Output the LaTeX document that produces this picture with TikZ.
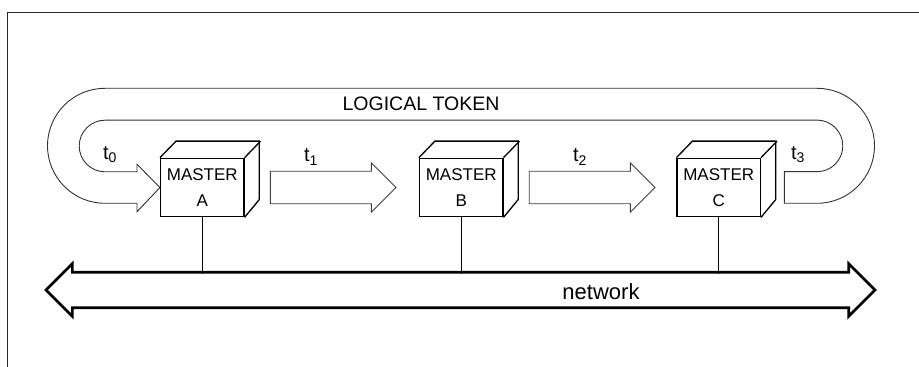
\documentclass[tikz,border=0pt]{standalone}
\usepackage{fontspec}
\setmainfont{Liberation Sans}
\usetikzlibrary{shapes.arrows,positioning}

\begin{document}
\begin{tikzpicture}[x=1pt,y=1pt,
	master/.style={draw,line width=1.3pt,minimum width=83.3pt,minimum height=58.4pt,inner sep=0pt,align=center,font=\fontsize{17}{26}\selectfont},
	passarrow/.style={single arrow,draw=black!75,line width=0.9pt,inner xsep=0pt,inner ysep=15.8pt,single arrow head extend=8.4pt,minimum height=125.7pt},
	tlabel/.style={font=\fontsize{20}{22}\selectfont}]
	\useasboundingbox (0,0) rectangle (919,367);
	\draw[line width=1.3pt,black!85] (919,354.3) -- (7.7,354.3) -- (7.7,0);

	\node[master] (A) at (202.3,179.5) {MASTER\\A};
	\node[master] (B) at (461.2,179.5) {MASTER\\B};
	\node[master] (C) at (718.7,179.5) {MASTER\\C};
	\foreach \m in {A,B,C}{
		\draw[line width=1.3pt] (\m.north west) -- ++(16,16.5) -- ++(83.3,0) -- ++(0,-58.4) -- (\m.south east);
		\draw[line width=1.3pt] (\m.north east) -- ++(16,16.5);
	}

	\node[passarrow,right=25.3pt of A] (AB) {};
	\node[passarrow,right=25.3pt of B] (BC) {};

	\draw[black!80,line width=0.9pt] (784.3,195.3) -- (817,195.3) arc[start angle=-90,end angle=90,radius=25.8]
		-- (105,246.8) arc[start angle=90,end angle=270,radius=25.8] -- (137,195.3) -- (137,202.7)
		-- (A.west) -- (137,155.3) -- (137,163.7) -- (105,163.7) arc[start angle=270,end angle=90,radius=57.5]
		-- (817,278.7) arc[start angle=90,end angle=-90,radius=57.5] -- (784.3,163.7) -- cycle;
	\node[font=\fontsize{19.5}{22}\selectfont] (token) at (421,263) {LOGICAL TOKEN};

	\node[tlabel] (t0) at (110,212) {t\textsubscript{0}};
	\node[tlabel] (t1) at (311,210) {t\textsubscript{1}};
	\node[tlabel] (t2) at (580,210) {t\textsubscript{2}};
	\node[tlabel] (t3) at (798,212) {t\textsubscript{3}};

	\node[double arrow,draw,line width=2.7pt,inner xsep=0pt,inner ysep=16.35pt,double arrow head extend=8.65pt,minimum height=829pt] (net) at (460.5,77) {};
	\node[font=\fontsize{22}{24}\selectfont] (nettext) at (601,75) {network};
	\coordinate (bus) at (0,93.4);
	\foreach \m in {A,B,C}
		\draw[line width=1.3pt] (\m.south) -- (\m.south |- bus);
\end{tikzpicture}
\end{document}
